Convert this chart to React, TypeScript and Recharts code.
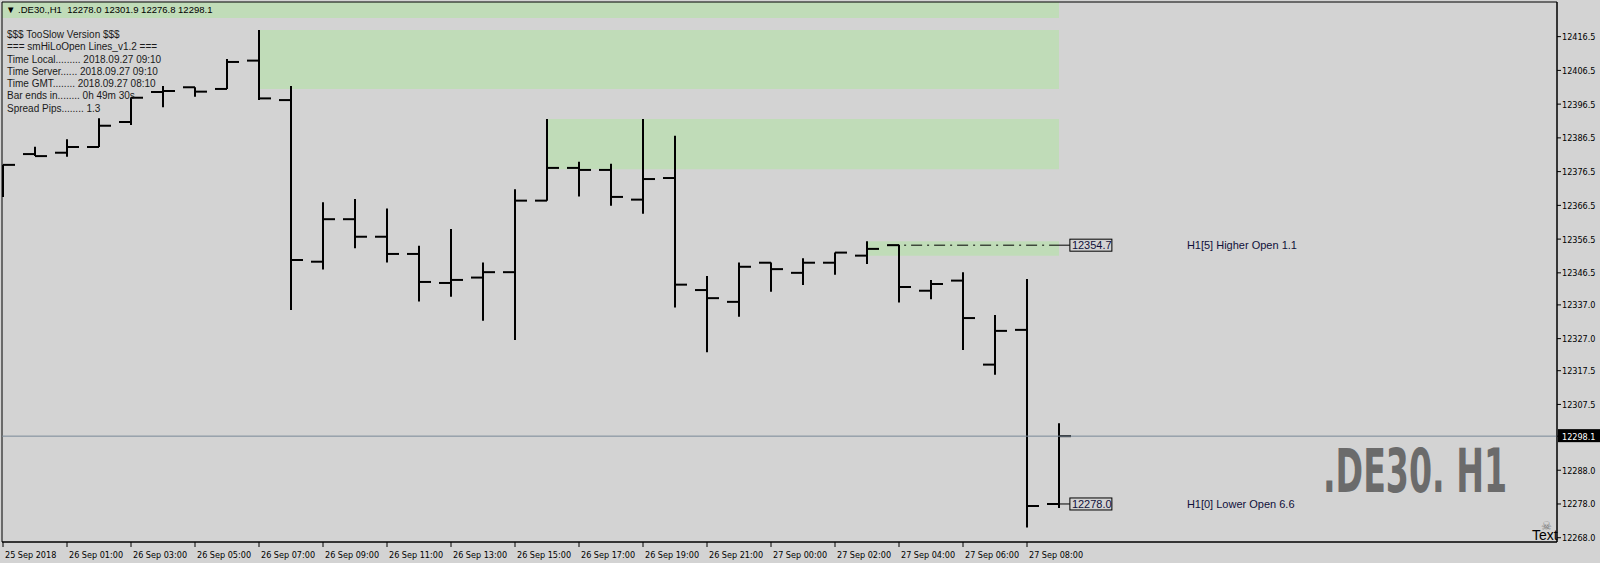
import { Bar, ComposedChart, ReferenceArea, ReferenceDot, ReferenceLine, XAxis, YAxis } from 'recharts';

// hourly bars, .DE30 H1 (labels as shown on the time axis)
const times = [
  '25 Sep 2018',
  '26 Sep 00:00', '26 Sep 01:00', '26 Sep 02:00', '26 Sep 03:00', '26 Sep 04:00', '26 Sep 05:00',
  '26 Sep 06:00', '26 Sep 07:00', '26 Sep 08:00', '26 Sep 09:00', '26 Sep 10:00', '26 Sep 11:00',
  '26 Sep 12:00', '26 Sep 13:00', '26 Sep 14:00', '26 Sep 15:00', '26 Sep 16:00', '26 Sep 17:00',
  '26 Sep 18:00', '26 Sep 19:00', '26 Sep 20:00', '26 Sep 21:00', '26 Sep 22:00',
  '27 Sep 00:00', '27 Sep 01:00', '27 Sep 02:00', '27 Sep 03:00', '27 Sep 04:00', '27 Sep 05:00',
  '27 Sep 06:00', '27 Sep 07:00', '27 Sep 08:00', '27 Sep 09:00',
];

const opens = [
  12374.0, 12381.7, 12382.1, 12383.8, 12391.2, 12400.1, 12401.5, 12401.0, 12409.4, 12397.7,
  12349.8, 12362.4, 12357.2, 12352.1, 12343.5, 12345.1, 12346.7, 12367.9, 12377.6, 12377.0,
  12368.2, 12374.6, 12341.4, 12337.9, 12349.5, 12346.5, 12349.5, 12351.6, 12354.7, 12341.2,
  12344.2, 12319.3, 12329.6, 12278.0,
];
const highs = [
  12378.5, 12383.9, 12386.1, 12392.3, 12398.5, 12401.9, 12401.5, 12409.9, 12418.5, 12401.9,
  12367.4, 12368.4, 12365.6, 12354.5, 12359.5, 12349.6, 12371.3, 12392.1, 12379.4, 12378.8,
  12392.1, 12387.1, 12345.6, 12349.6, 12349.6, 12350.8, 12352.5, 12355.9, 12354.8, 12344.4,
  12346.7, 12334.0, 12344.7, 12301.9,
];
const lows = [
  12369.0, 12381.1, 12380.9, 12383.8, 12390.3, 12395.6, 12398.7, 12401.0, 12397.7, 12335.5,
  12347.5, 12353.8, 12349.6, 12338.0, 12339.4, 12332.3, 12326.6, 12367.9, 12369.1, 12366.4,
  12364.0, 12336.2, 12323.0, 12333.5, 12340.9, 12342.9, 12345.9, 12349.1, 12337.7, 12338.7,
  12323.6, 12316.3, 12271.0, 12276.8,
];
const closes = [
  12378.5, 12381.1, 12383.8, 12390.1, 12398.4, 12400.4, 12400.2, 12409.0, 12398.2, 12350.3,
  12362.4, 12357.2, 12352.1, 12343.8, 12344.4, 12346.7, 12367.9, 12377.6, 12377.0, 12369.0,
  12374.3, 12343.0, 12339.0, 12348.3, 12347.6, 12349.5, 12352.5, 12353.6, 12342.3, 12343.2,
  12333.1, 12329.3, 12277.4, 12298.1,
];

const priceTicks = [
  12416.5, 12406.5, 12396.5, 12386.5, 12376.5, 12366.5, 12356.5, 12346.5,
  12337.0, 12327.0, 12317.5, 12307.5, 12298.1, 12288.0, 12278.0, 12268.0,
];
const bidPrice = 12298.1;

// supply zones: first bar, top, bottom (they run to the last bar)
const zoneStart = [-1, 8, 17, 27];
const zoneTop = [12440, 12418.5, 12392.1, 12355.9];
const zoneBottom = [12422.0, 12401.0, 12377.2, 12351.6];

// smHiLoOpen lines
const hiloPrice = [12354.7, 12278.0];
const hiloFrom = [28, 33];
const hiloText = ['H1[5] Higher Open 1.1', 'H1[0] Lower Open 6.6'];
const hiloDashed = [true, false];

const infoLines = [
  '$$$ TooSlow Version $$$',
  '=== smHiLoOpen Lines_v1.2 ===',
  'Time Local......... 2018.09.27 09:10',
  'Time Server...... 2018.09.27 09:10',
  'Time GMT........ 2018.09.27 08:10',
  'Bar ends in........ 0h 49m 30s',
  'Spread Pips........ 1.3',
];

const W = 1600;
const H = 563;
const X_MIN = -1 / 32;
const X_MAX = X_MIN + 1555 / 32;
const Y_MIN = 12266.73;
const Y_MAX = 12426.77;
const BG = '#d3d3d3';
const ZONE = '#c0dcb8';
const FONT = "'DejaVu Sans Condensed', 'Liberation Sans', sans-serif";
const SANS = "'Liberation Sans', sans-serif";
const last = times.length - 1;

const bars = times.map((t, i) => ({
  i,
  time: t,
  open: opens[i],
  high: highs[i],
  low: lows[i],
  close: closes[i],
  range: [lows[i], highs[i]],
}));

const OhlcBar = (props: any) => {
  const { x, y, width, height, payload } = props;
  if (x == null || y == null || height == null) return null;
  const top = Math.min(y, y + height);
  const h = Math.abs(height);
  const k = h / (payload.high - payload.low || 1);
  const cx = Math.round(x + width / 2);
  const yo = top + (payload.high - payload.open) * k;
  const yc = top + (payload.high - payload.close) * k;
  return (
    <g stroke="#000" strokeWidth={2}>
      <line x1={cx} x2={cx} y1={top} y2={top + h} />
      <line x1={cx - 12} x2={cx} y1={yo} y2={yo} />
      <line x1={cx} x2={cx + 12} y1={yc} y2={yc} />
    </g>
  );
};

const TimeTick = (props: any) => {
  const { x, y, payload } = props;
  return (
    <text x={x + 2} y={y + 9} fontSize={9} fontFamily={FONT} fill="#000">
      {times[payload.value]}
    </text>
  );
};

const PriceTick = (props: any) => {
  const { x, y, payload } = props;
  if (payload.value === bidPrice) {
    return (
      <g>
        <rect x={x - 5} y={y - 7} width={42} height={13} fill="#000" />
        <text x={x - 1} y={y + 3.5} fontSize={9} fontFamily={FONT} fill="#fff">
          {payload.value.toFixed(1)}
        </text>
      </g>
    );
  }
  return (
    <text x={x - 1} y={y + 3.5} fontSize={9} fontFamily={FONT} fill="#000">
      {payload.value.toFixed(1)}
    </text>
  );
};

const PriceTag = (props: any) => {
  const { cx, cy, price, text } = props;
  if (cx == null || cy == null) return null;
  return (
    <g>
      <rect x={cx} y={cy - 6} width={42} height={12} fill={BG} stroke="#000" strokeWidth={1} />
      <text x={cx + 2} y={cy + 4} fontSize={11} fontFamily={SANS} fill="#10103a">
        {price.toFixed(1)}
      </text>
      <text x={cx + 117} y={cy + 4} fontSize={11} fontFamily={SANS} fill="#10103a">
        {text}
      </text>
    </g>
  );
};

export default function App() {
  return (
    <div style={{ position: 'absolute', left: 0, top: 0, width: W, height: H, background: BG, overflow: 'hidden' }}>
      <ComposedChart width={W} height={H} data={bars} margin={{ top: 2, right: 0, left: 2, bottom: 0 }}>
        <XAxis
          type="number"
          dataKey="i"
          domain={[X_MIN, X_MAX]}
          allowDataOverflow
          ticks={times.map((_, i) => i).filter((i) => i % 2 === 0)}
          tick={<TimeTick />}
          tickSize={5}
          height={21}
          stroke="#000"
          interval={0}
        />
        <YAxis
          orientation="right"
          type="number"
          domain={[Y_MIN, Y_MAX]}
          allowDataOverflow
          ticks={priceTicks}
          tick={<PriceTick />}
          tickSize={4}
          width={43}
          stroke="#000"
          interval={0}
        />
        {zoneStart.map((s, z) => (
          <ReferenceArea
            key={'z' + z}
            x1={Math.max(s, X_MIN)}
            x2={last}
            y1={zoneBottom[z]}
            y2={Math.min(zoneTop[z], Y_MAX)}
            fill={ZONE}
            fillOpacity={1}
            stroke="none"
            ifOverflow="hidden"
          />
        ))}
        <ReferenceArea x1={X_MIN} x2={X_MAX} y1={Y_MIN} y2={Y_MAX} fill="none" stroke="#000" strokeWidth={1} ifOverflow="visible" />
        <ReferenceLine y={bidPrice} stroke="#7a8999" strokeWidth={1} />
        {hiloPrice.map((p, n) => (
          <ReferenceLine
            key={'hl' + n}
            segment={[{ x: hiloFrom[n] - 0.34, y: p }, { x: last, y: p }]}
            stroke="#000"
            strokeWidth={1}
            strokeDasharray={hiloDashed[n] ? '11 5 2 5' : undefined}
            ifOverflow="visible"
          />
        ))}
        {hiloPrice.map((p, n) => (
          <ReferenceLine
            key={'hs' + n}
            segment={[{ x: last, y: p }, { x: last + 0.34, y: p }]}
            stroke="#000"
            strokeWidth={1}
            ifOverflow="visible"
          />
        ))}
        <Bar dataKey="range" shape={OhlcBar} barSize={20} isAnimationActive={false} />
        {hiloPrice.map((p, n) => (
          <ReferenceDot
            key={'tag' + n}
            x={last + 0.34}
            y={p}
            r={0}
            ifOverflow="visible"
            shape={(sp: any) => <PriceTag cx={sp.cx} cy={sp.cy} price={p} text={hiloText[n]} />}
          />
        ))}
      </ComposedChart>

      <div style={{ position: 'absolute', left: 6, top: 4, fontFamily: SANS, fontSize: 9.5, color: '#000', whiteSpace: 'pre', lineHeight: '12px' }}>
        {'\u25BC .DE30.,H1  12278.0 12301.9 12276.8 12298.1'}
      </div>
      <div style={{ position: 'absolute', left: 7, top: 29, fontFamily: SANS, fontSize: 10, color: '#1a1a1a', whiteSpace: 'pre', lineHeight: '12.3px' }}>
        {infoLines.map((l) => (
          <div key={l}>{l}</div>
        ))}
      </div>
      <svg style={{ position: 'absolute', left: 0, top: 0 }} width={W} height={H}>
        <g transform="translate(1323,492) scale(0.62,1)">
          <text
            x={0}
            y={0}
            fontSize={60}
            fontWeight="bold"
            fontFamily="'Liberation Sans Narrow', 'DejaVu Sans Condensed', sans-serif"
            fill="#6b6b6b"
            textLength={297}
            lengthAdjust="spacingAndGlyphs"
          >
            .DE30. H1
          </text>
        </g>
        <text x={1546} y={530} fontSize={12} fill="#7a7a7a" textAnchor="middle">
          {'\u2620'}
        </text>
        <text x={1532} y={540} fontSize={14} fontFamily={SANS} fill="#000">
          Text
        </text>
      </svg>
    </div>
  );
}
